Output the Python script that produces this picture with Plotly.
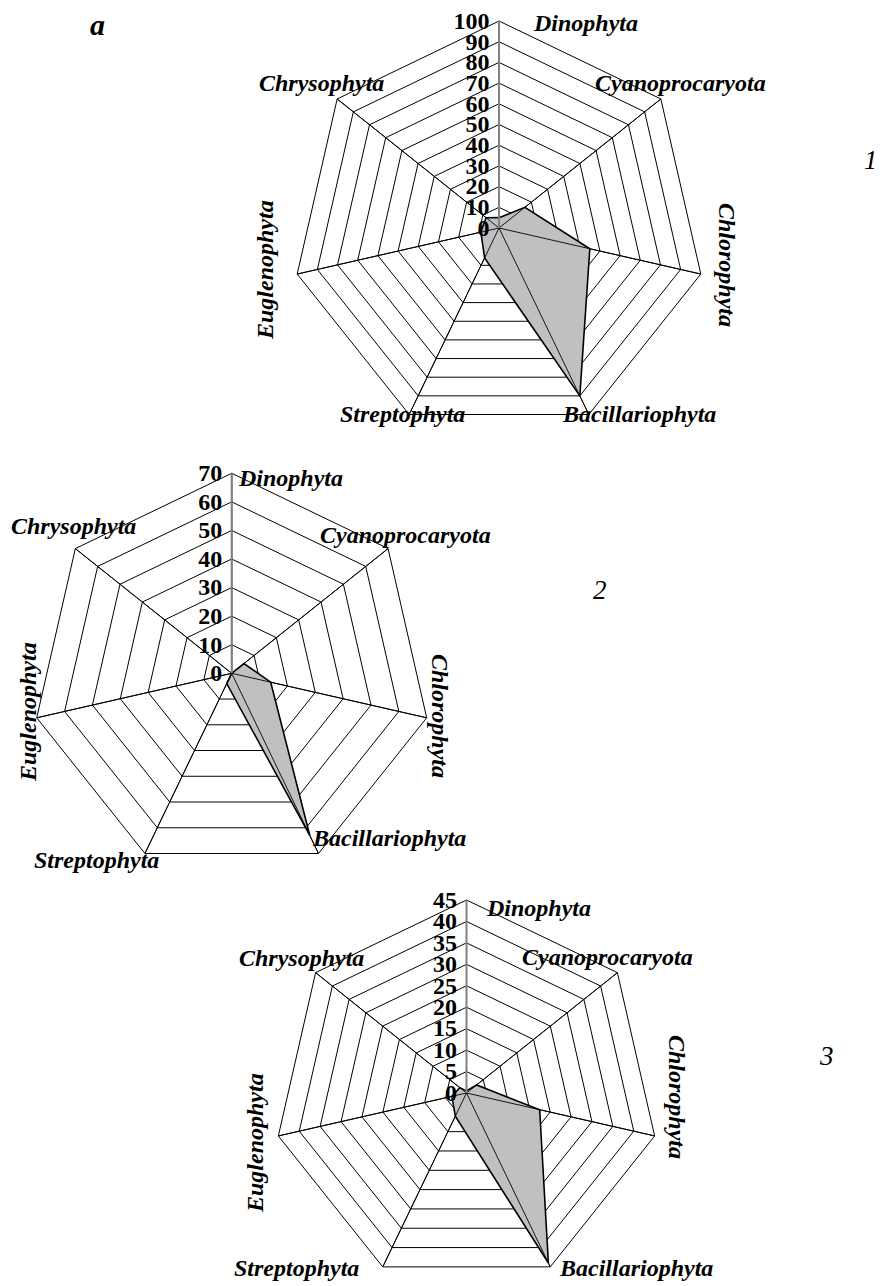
import plotly.graph_objects as go

# page body has an 8px margin; figure is sized/positioned to compensate
OFF = 8
W, H = 882 - OFF, 1286 - OFF

categories = ["Dinophyta", "Cyanoprocaryota", "Chlorophyta", "Bacillariophyta",
              "Streptophyta", "Euglenophyta", "Chrysophyta"]

values_1 = [5, 16, 45, 90, 16, 9, 8]
values_2 = [0, 5.5, 14, 63, 4, 0, 0]
values_3 = [0.5, 3, 17.5, 44, 6, 3.5, 2]

range_1 = [0, 100]
range_2 = [0, 70]
range_3 = [0, 45]
dtick_1, dtick_2, dtick_3 = 10, 10, 5

panel_labels = ["1", "2", "3"]
letter = "a"

SERIF = "Liberation Serif"

fig = go.Figure()


def fx(x):
    return (x - OFF) / W


def fy(y):
    return 1 - (y - OFF) / H


def px_domain(cx, cy, r):
    return dict(x=[max(0, fx(cx - r)), min(1, fx(cx + r))],
                y=[max(0, fy(cy + r)), min(1, fy(cy - r))])


panels = [
    ("polar", values_1, range_1, dtick_1, px_domain(499, 228, 207)),
    ("polar2", values_2, range_2, dtick_2, px_domain(231.7, 673.3, 200)),
    ("polar3", values_3, range_3, dtick_3, px_domain(466.5, 1093, 193)),
]

for name, vals, rng, dt, dom in panels:
    # filled data polygon
    fig.add_trace(go.Scatterpolar(
        r=vals + [vals[0]], theta=categories + [categories[0]],
        mode="lines", fill="toself", fillcolor="#c0c0c0",
        line=dict(color="black", width=1.6), subplot=name, showlegend=False,
        hoverinfo="skip"))
    # spokes drawn over the fill
    rr, tt = [], []
    for c in categories:
        rr += [0, rng[1], None]
        tt += [c, c, None]
    fig.add_trace(go.Scatterpolar(
        r=rr, theta=tt, mode="lines", line=dict(color="black", width=0.9),
        subplot=name, showlegend=False, hoverinfo="skip", connectgaps=False))
    fig.layout[name] = dict(
        domain=dom,
        gridshape="linear",
        bgcolor="white",
        radialaxis=dict(
            range=rng, dtick=dt, tick0=0, angle=90, side="counterclockwise",
            showline=True, linecolor="#808080", linewidth=2,
            showgrid=True, gridcolor="black", gridwidth=1,
            ticks="",
            tickfont=dict(family=SERIF, size=24, color="black", weight="bold"),
            tickangle=90,
        ),
        angularaxis=dict(
            direction="clockwise", rotation=90,
            showline=True, linecolor="black", linewidth=1,
            showgrid=True, gridcolor="black", gridwidth=1,
            showticklabels=False, ticks="",
        ),
    )

label_pos = [
    # chart 1
    [(585, 23, 0), (680, 83, 0), (727, 265, 90), (639, 414, 0), (402, 414, 0), (265, 270, -90), (321, 83, 0)],
    # chart 2
    [(290, 478, 0), (405, 535, 0), (440, 716, 90), (389, 838, 0), (96, 860, 0), (28, 712, -90), (73, 526, 0)],
    # chart 3
    [(538, 908, 0), (607, 957, 0), (677, 1097, 90), (636, 1268, 0), (296, 1268, 0), (255, 1143, -90), (301, 958, 0)],
]

annotations = []
for poslist in label_pos:
    for cat, (x, y, ang) in zip(categories, poslist):
        annotations.append(dict(
            x=fx(x), y=fy(y), xref="paper", yref="paper", text=cat,
            showarrow=False, xanchor="center", yanchor="middle", textangle=ang,
            font=dict(family=SERIF, size=24, color="black", weight="bold", style="italic")))

for lab, (x, y) in zip(panel_labels, [(871, 160), (600, 590), (826, 1056)]):
    annotations.append(dict(
        x=fx(x), y=fy(y), xref="paper", yref="paper", text=lab, showarrow=False,
        xanchor="center", yanchor="middle",
        font=dict(family=SERIF, size=27, color="black", style="italic")))

annotations.append(dict(
    x=fx(97), y=fy(25), xref="paper", yref="paper", text=letter, showarrow=False,
    xanchor="center", yanchor="middle",
    font=dict(family=SERIF, size=30, color="black", style="italic", weight="bold")))

fig.update_layout(
    width=W, height=H, margin=dict(l=0, r=0, t=0, b=0),
    paper_bgcolor="white", plot_bgcolor="white",
    annotations=annotations, showlegend=False,
)

fig.write_html("out.html")
